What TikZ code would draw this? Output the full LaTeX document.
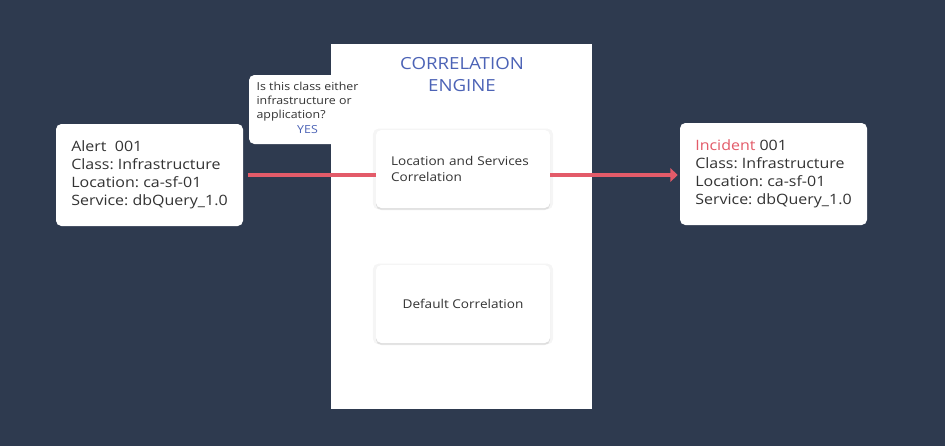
\documentclass[tikz,border=0pt]{standalone}
\usepackage{fontspec}
\setmainfont{Open Sans}[FakeStretch=1.12]
\frenchspacing
\usetikzlibrary{shadows, arrows.meta}
\definecolor{slate}{HTML}{2E3A4F}
\definecolor{linkred}{HTML}{E35B69}
\definecolor{titleblue}{HTML}{4C63B6}
\definecolor{ink}{HTML}{333333}
\newcommand{\pxl}{0.75pt}
\tikzset{
    card/.style={fill=white, rounded corners=4pt, inner sep=0pt, text=ink},
    infocard/.style={card, minimum width=187*\pxl, minimum height=102*\pxl,
        align=left, font=\fontsize{10.7}{13.5}\selectfont},
    innercard/.style={card, minimum width=174*\pxl, minimum height=78*\pxl,
        general shadow={fill=black, opacity=0.04, shadow scale=1.035},
        drop shadow={fill=black, opacity=0.09, shadow xshift=0pt, shadow yshift=-1.5pt}},
    flow/.style={linkred, line width=3pt}
}

\begin{document}
\begin{tikzpicture}[x=\pxl, y=-\pxl]

        %background
        \fill[slate] (0,0) rectangle (945,446);
        \useasboundingbox (0,0) rectangle (945,446);

        %engine panel
        \node[fill=white, inner sep=0pt, minimum width=261*\pxl, minimum height=365*\pxl]
            (engine) at (461.5,226.5) {};
        \node[titleblue, align=center, font=\fontsize{12.5}{16.5}\selectfont]
            (title) at (462,75) {CORRELATION\\ENGINE};

        %alert and incident
        \node[infocard] (alert) at (149.5,175)
            {Alert\ \ 001\\Class: Infrastructure\\Location: ca-sf-01\\Service: dbQuery\_1.0};
        \node[infocard] (incident) at (773.5,174)
            {\textcolor{linkred}{Incident} 001\\Class: Infrastructure\\Location: ca-sf-01\\Service: dbQuery\_1.0};

        %question
        \node[card, minimum width=117*\pxl, minimum height=69*\pxl,
            font=\fontsize{8.3}{10.5}\selectfont]
            (question) at (307.5,109.5) {\begin{tabular}{@{}l@{}}Is this class either\\infrastructure or\\application?\\[0.5pt]\multicolumn{1}{@{}c@{}}{\textcolor{titleblue}{YES}}\end{tabular}};

        %correlation boxes
        \node[innercard, text width=144*\pxl, align=left, font=\fontsize{9.1}{12}\selectfont]
            (locsvc) at (463,169) {Location and Services\\Correlation};
        \node[innercard, font=\fontsize{9.1}{12}\selectfont]
            (default) at (463,304) {Default Correlation};

        %lines
        \draw[flow] ([xshift=5*\pxl]alert.east) -- (locsvc.west |- alert.east);
        \draw[flow, -{Triangle[length=5.5pt, width=10pt]}, shorten >=1.5pt]
            (locsvc.east |- alert.east) -- (incident.west |- alert.east);

\end{tikzpicture}
\end{document}
